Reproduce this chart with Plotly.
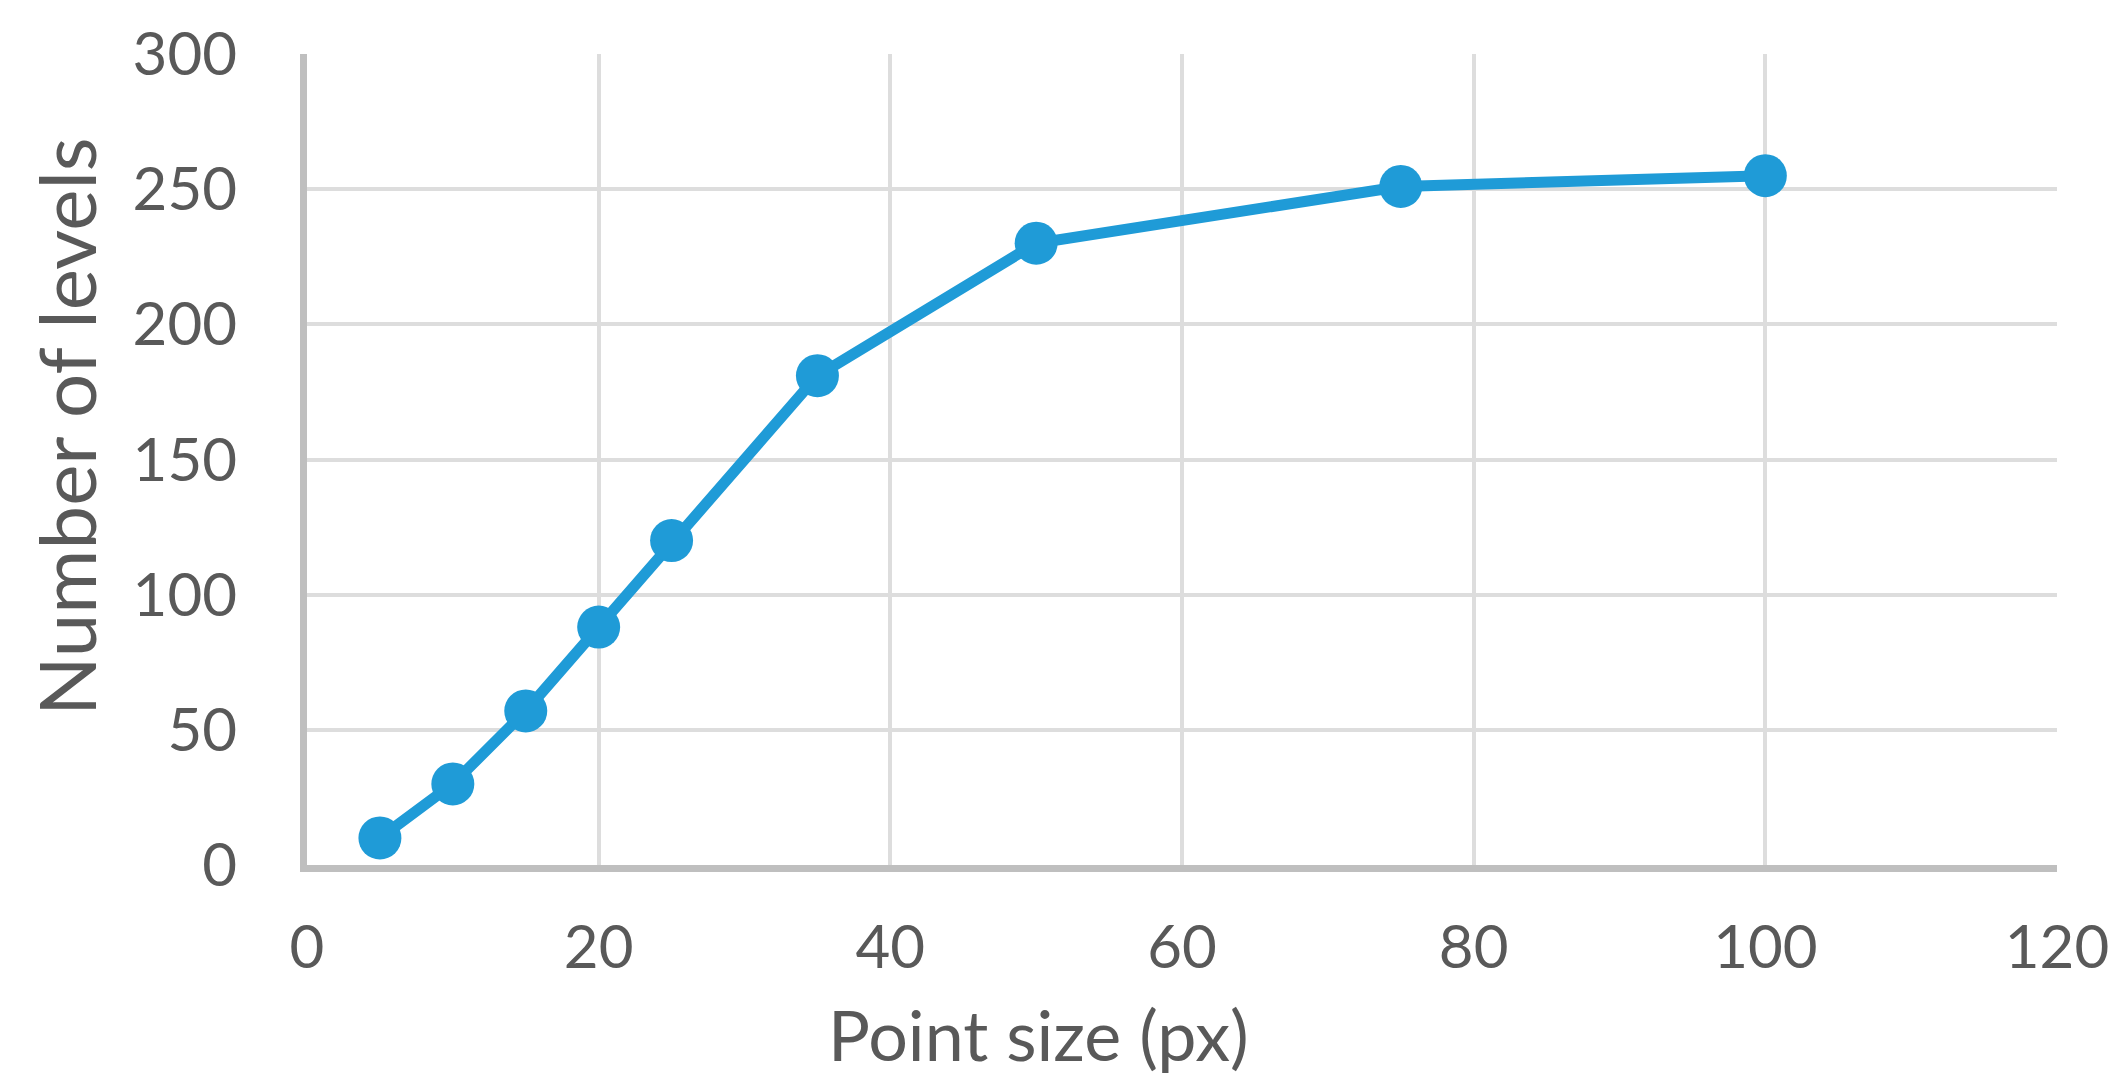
import plotly.graph_objects as go

point_size = [5, 10, 15, 20, 25, 35, 50, 75, 100]
levels = [10, 30, 57, 88, 120, 181, 230, 251, 255]

x_ticks = [0, 20, 40, 60, 80, 100, 120]
y_ticks = [0, 50, 100, 150, 200, 250, 300]

x_title = "Point size (px)"
y_title = "Number of levels"

FONT = "Lato, Open Sans, sans-serif"
TXT = "#595959"

fig = go.Figure()
fig.add_trace(go.Scatter(
    x=point_size, y=levels, mode="lines+markers",
    line=dict(color="#1f9bd7", width=11),
    marker=dict(color="#1f9bd7", size=43),
    showlegend=False,
))

fig.update_layout(
    width=2123, height=1092,
    margin=dict(l=299, r=74, t=46, b=235),
    paper_bgcolor="white", plot_bgcolor="white",
    font=dict(family=FONT, color=TXT, size=58),
)
fig.update_xaxes(
    range=[0, 120], tickvals=x_ticks, ticktext=[str(v) for v in x_ticks],
    showgrid=True, gridcolor="#dddddd", gridwidth=4,
    showline=True, linecolor="#bfbfbf", linewidth=7,
    zeroline=False, ticks="", ticklabelstandoff=24, automargin=False,
    tickfont=dict(size=60, color=TXT),
)
fig.update_yaxes(
    range=[0, 300], tickvals=y_ticks, ticktext=[str(v) for v in y_ticks],
    showgrid=True, gridcolor="#dddddd", gridwidth=4,
    showline=True, linecolor="#bfbfbf", linewidth=7,
    zeroline=False, ticks="", ticklabelstandoff=51, automargin=False,
    tickfont=dict(size=60, color=TXT),
)

fig.add_annotation(
    text=x_title, xref="paper", yref="paper",
    x=(1030 - 299) / (2123 - 299 - 74), y=-(1026 - 857) / (857 - 46),
    xanchor="center", yanchor="middle", showarrow=False,
    font=dict(size=70, color=TXT, family=FONT),
)
fig.add_annotation(
    text=y_title, xref="paper", yref="paper",
    x=-(299 - 58) / (2123 - 299 - 74), y=(857 - 419) / (857 - 46),
    xanchor="center", yanchor="middle", showarrow=False, textangle=-90,
    font=dict(size=78, color=TXT, family=FONT),
)

fig.write_html("out.html")
